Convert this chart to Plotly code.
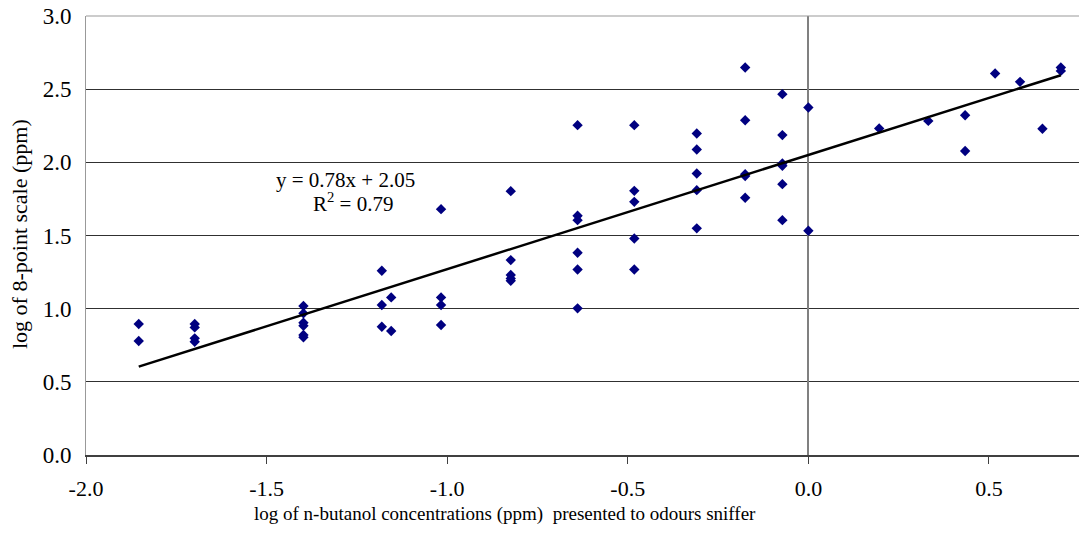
import plotly.graph_objects as go
import numpy as np

# Scatter data (log10 concentration, log10 8-point scale)
x_vals = [
    -1.854, -1.854,
    -1.699, -1.699, -1.699, -1.699,
    -1.398, -1.398, -1.398, -1.398, -1.398, -1.398,
    -1.181, -1.181, -1.181,
    -1.155, -1.155,
    -1.017, -1.017, -1.017, -1.017,
    -0.824, -0.824, -0.824, -0.824, -0.824,
    -0.639, -0.639, -0.639, -0.639, -0.639, -0.639,
    -0.482, -0.482, -0.482, -0.482, -0.482,
    -0.309, -0.309, -0.309, -0.309, -0.309,
    -0.175, -0.175, -0.175, -0.175, -0.175,
    -0.072, -0.072, -0.072, -0.072, -0.072, -0.072,
    0.0, 0.0,
    0.196, 0.332, 0.434, 0.434, 0.517, 0.586, 0.648, 0.699, 0.699,
]
y_vals = [
    0.895, 0.779,
    0.895, 0.872, 0.797, 0.774,
    1.018, 0.968, 0.904, 0.883, 0.820, 0.804,
    1.259, 1.025, 0.876,
    1.077, 0.847,
    1.680, 1.077, 1.025, 0.888,
    1.803, 1.332, 1.230, 1.207, 1.190,
    2.254, 1.635, 1.605, 1.382, 1.268, 1.002,
    2.254, 1.805, 1.730, 1.480, 1.268,
    2.197, 2.088, 1.924, 1.810, 1.549,
    2.648, 2.288, 1.919, 1.906, 1.758,
    2.466, 2.186, 1.992, 1.976, 1.851, 1.605,
    2.375, 1.532,
    2.232, 2.283, 2.322, 2.077, 2.607, 2.550, 2.229, 2.648, 2.625,
]

# Linear trendline as printed on the chart
slope = 0.78
intercept = 2.05
r_squared = 0.79

x_tick_vals = [-2.0, -1.5, -1.0, -0.5, 0.0, 0.5]
x_tick_text = ["-2.0", "-1.5", "-1.0", "-0.5", "0.0", "0.5"]
y_tick_vals = [0.0, 0.5, 1.0, 1.5, 2.0, 2.5, 3.0]
y_tick_text = ["0.0", "0.5", "1.0", "1.5", "2.0", "2.5", "3.0"]

x_title = "log of n-butanol concentrations (ppm)\u00a0 presented to odours sniffer"
y_title = "log of 8-point scale (ppm)"

FONT = "Liberation Serif, Times New Roman, serif"

# page has an 8px body margin; figure is sized to the visible window
OFF = 8
W, H = 1087 - OFF, 542 - OFF
L, R, T, B = 86 - OFF, 0, 16 - OFF, 87
PW, PH = W - L - R, H - T - B
BOTTOM_PX = 455  # window pixel of plot bottom


def px_x(px):
    return (px - OFF - L) / PW


def px_y(py):
    return ((BOTTOM_PX - py)) / PH


line_x = np.array([min(x_vals), max(x_vals)])
line_y = slope * line_x + intercept

fig = go.Figure()
fig.add_trace(go.Scatter(
    x=x_vals, y=y_vals, mode="markers",
    marker=dict(symbol="diamond", size=8, color="#000080",
                line=dict(width=0)),
    showlegend=False, hoverinfo="x+y",
))
fig.add_trace(go.Scatter(
    x=line_x, y=line_y, mode="lines",
    line=dict(color="black", width=2.5),
    showlegend=False, hoverinfo="skip",
))

fig.add_annotation(
    x=-1.281, y=1.878, xref="x", yref="y",
    text=f"y = {slope:.2f}x + {intercept:.2f}",
    showarrow=False, font=dict(family=FONT, size=21, color="black"),
)
fig.add_annotation(
    x=-1.262, y=1.725, xref="x", yref="y",
    text=f"R<sup>2</sup> = {r_squared:.2f}",
    showarrow=False, font=dict(family=FONT, size=21, color="black"),
)
# x-axis title
fig.add_annotation(
    x=px_x(505), y=px_y(514), xref="paper", yref="paper",
    xanchor="center", yanchor="middle",
    text=x_title, showarrow=False,
    font=dict(family=FONT, size=19, color="black"),
)
# y-axis title
fig.add_annotation(
    x=px_x(20), y=px_y(234), xref="paper", yref="paper",
    xanchor="center", yanchor="middle", textangle=-90,
    text=y_title, showarrow=False,
    font=dict(family=FONT, size=22, color="black"),
)

fig.add_shape(type="line", xref="paper", yref="paper",
              x0=0, x1=1, y0=1, y1=1,
              line=dict(color="#999999", width=1))

fig.update_layout(
    width=W, height=H,
    margin=dict(l=L, r=R, t=T, b=B, pad=0),
    paper_bgcolor="white", plot_bgcolor="white",
    font=dict(family=FONT, size=21, color="black"),
    xaxis=dict(
        range=[-2.0, 0.7714],
        tickvals=x_tick_vals, ticktext=x_tick_text,
        ticks="outside", ticklen=7, tickcolor="#404040", tickwidth=1,
        showgrid=False,
        zeroline=True, zerolinecolor="#808080", zerolinewidth=1.5,
        showline=True, linecolor="#404040", linewidth=1.5,
        tickfont=dict(family=FONT, size=22),
        ticklabelstandoff=6,
        ticklabeloverflow="allow",
        automargin=False,
        fixedrange=True,
    ),
    yaxis=dict(
        range=[0, 3.0],
        tickvals=y_tick_vals, ticktext=y_tick_text,
        ticks="",
        showgrid=True, gridcolor="#303030", gridwidth=1,
        zeroline=False,
        showline=True, linecolor="#999999", linewidth=1,
        tickfont=dict(family=FONT, size=23),
        ticklabelstandoff=9,
        ticklabeloverflow="allow",
        automargin=False,
        fixedrange=True,
    ),
)

fig.write_html("out.html")
